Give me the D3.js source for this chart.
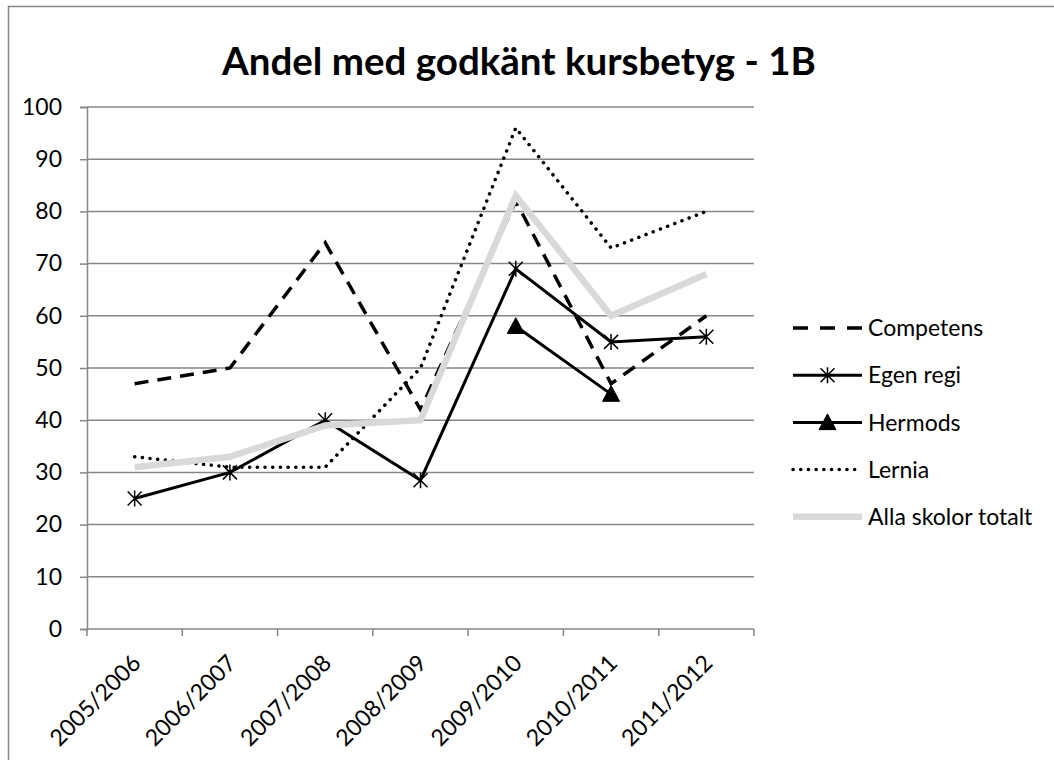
<!DOCTYPE html>
<html>
<head>
<meta charset="utf-8">
<script src="https://cdn.jsdelivr.net/npm/d3@7"></script>
<style>
  html, body { margin: 0; padding: 0; background: #fff; }
  svg { display: block; }
  text { font-family: Lato, "Open Sans", sans-serif; fill: #000; }
</style>
</head>
<body>
<svg id="chart" width="1054" height="760"></svg>
<script>
const title = "Andel med godkänt kursbetyg - 1B";
const categories = ["2005/2006", "2006/2007", "2007/2008", "2008/2009", "2009/2010", "2010/2011", "2011/2012"];
const yTicks = [0, 10, 20, 30, 40, 50, 60, 70, 80, 90, 100];
const seriesNames = ["Competens", "Egen regi", "Hermods", "Lernia", "Alla skolor totalt"];
const competens = [47, 50, 74, 42, 82, 47, 60];
const egenRegi = [25, 30, 40, 28.5, 69, 55, 56];
const hermods = [null, null, null, null, 58, 45, null];
const lernia = [33, 31, 31, 50, 96, 73, 80];
const allaSkolor = [31, 33, 39, 40, 83, 60, 68];

const seriesValues = [competens, egenRegi, hermods, lernia, allaSkolor];
const styles = [
  { stroke: "#000", width: 3.5, dash: "14,9", cap: "butt", marker: null },
  { stroke: "#000", width: 3, dash: null, cap: "butt", marker: "star" },
  { stroke: "#000", width: 3, dash: null, cap: "butt", marker: "triangle" },
  { stroke: "#000", width: 3.5, dash: "0.1,7.6", cap: "round", marker: null },
  { stroke: "#d9d9d9", width: 6.5, dash: null, cap: "butt", marker: null }
];

const svg = d3.select("#chart");
const gridColor = "#868686";

// outer chart border
svg.append("rect").attr("x", 8.5).attr("y", 6.5).attr("width", 1100).attr("height", 800)
  .attr("fill", "none").attr("stroke", gridColor).attr("stroke-width", 1.5);

const x = d3.scaleBand().domain(categories).range([87, 754]).paddingInner(0).paddingOuter(0);
const y = d3.scaleLinear().domain([0, 100]).range([629, 107]);
const cx = c => x(c) + x.bandwidth() / 2;

// title
svg.append("text").attr("x", 519).attr("y", 75).attr("text-anchor", "middle")
  .style("font-size", "38.5px").style("font-weight", "bold").text(title);

// gridlines
svg.append("g").selectAll("line").data(yTicks.filter(d => d > 0)).join("line")
  .attr("x1", 87).attr("x2", 754).attr("y1", d => y(d)).attr("y2", d => y(d))
  .attr("stroke", gridColor).attr("stroke-width", 1.5);

// y axis
const yAxis = d3.axisLeft(y).tickValues(yTicks).tickSize(7).tickPadding(18).tickFormat(d3.format("d"));
const gy = svg.append("g").attr("transform", "translate(87,0)").call(yAxis);
gy.select(".domain").attr("stroke", gridColor).attr("stroke-width", 1.5);
gy.selectAll(".tick line").attr("stroke", gridColor).attr("stroke-width", 1.5);
gy.selectAll(".tick text").style("font-size", "23px").style("font-family", "Lato").attr("fill", "#000");

// x axis (ticks at band boundaries)
const boundaries = categories.map(c => x(c)).concat([x(categories[categories.length - 1]) + x.bandwidth()]);
const gx = svg.append("g");
gx.append("line").attr("x1", 87).attr("x2", 754).attr("y1", 629).attr("y2", 629)
  .attr("stroke", gridColor).attr("stroke-width", 1.5);
gx.selectAll("line.tk").data(boundaries).join("line").attr("class", "tk")
  .attr("x1", d => d).attr("x2", d => d).attr("y1", 629).attr("y2", 636)
  .attr("stroke", gridColor).attr("stroke-width", 1.5);
gx.selectAll("text").data(categories).join("text")
  .attr("transform", d => `translate(${cx(d) - 4},${653}) rotate(-45)`)
  .attr("text-anchor", "end").attr("dy", "0.71em")
  .style("font-size", "23px").text(d => d);

// lines
const line = d3.line().defined(d => d.v !== null).x(d => cx(d.c)).y(d => y(d.v));
const plot = svg.append("g");

function drawMarker(g, type, px, py) {
  if (type === "star") {
    const r = 7;
    g.append("path")
      .attr("d", `M${px - r},${py - r}L${px + r},${py + r}M${px - r},${py + r}L${px + r},${py - r}M${px},${py - r - 1}L${px},${py + r + 1}`)
      .attr("stroke", "#000").attr("stroke-width", 1.5).attr("fill", "none");
  } else if (type === "triangle") {
    const s = 8.5;
    g.append("path")
      .attr("d", `M${px},${py - s}L${px + s},${py + s * 0.85}L${px - s},${py + s * 0.85}Z`)
      .attr("fill", "#000").attr("stroke", "#000").attr("stroke-width", 1);
  }
}

seriesValues.forEach((vals, i) => {
  const st = styles[i];
  const data = categories.map((c, j) => ({ c, v: vals[j] }));
  const p = plot.append("path").datum(data).attr("d", line)
    .attr("fill", "none").attr("stroke", st.stroke).attr("stroke-width", st.width)
    .attr("stroke-linejoin", "miter").attr("stroke-linecap", st.cap);
  if (st.dash) p.attr("stroke-dasharray", st.dash);
  if (st.marker) {
    data.filter(d => d.v !== null).forEach(d => drawMarker(plot, st.marker, cx(d.c), y(d.v)));
  }
});

// legend
const legend = svg.append("g");
seriesNames.forEach((name, i) => {
  const st = styles[i];
  const ry = 328 + i * 47.2;
  const l = legend.append("line").attr("x1", 793).attr("x2", 862).attr("y1", ry).attr("y2", ry)
    .attr("stroke", st.stroke).attr("stroke-width", st.width).attr("stroke-linecap", st.cap);
  if (st.dash) l.attr("stroke-dasharray", i === 0 ? "15,12" : st.dash);
  if (st.marker) drawMarker(legend, st.marker, 827.5, ry);
  legend.append("text").attr("x", 868).attr("y", ry).attr("dy", "0.36em")
    .style("font-size", "23px").text(name);
});
</script>
</body>
</html>
